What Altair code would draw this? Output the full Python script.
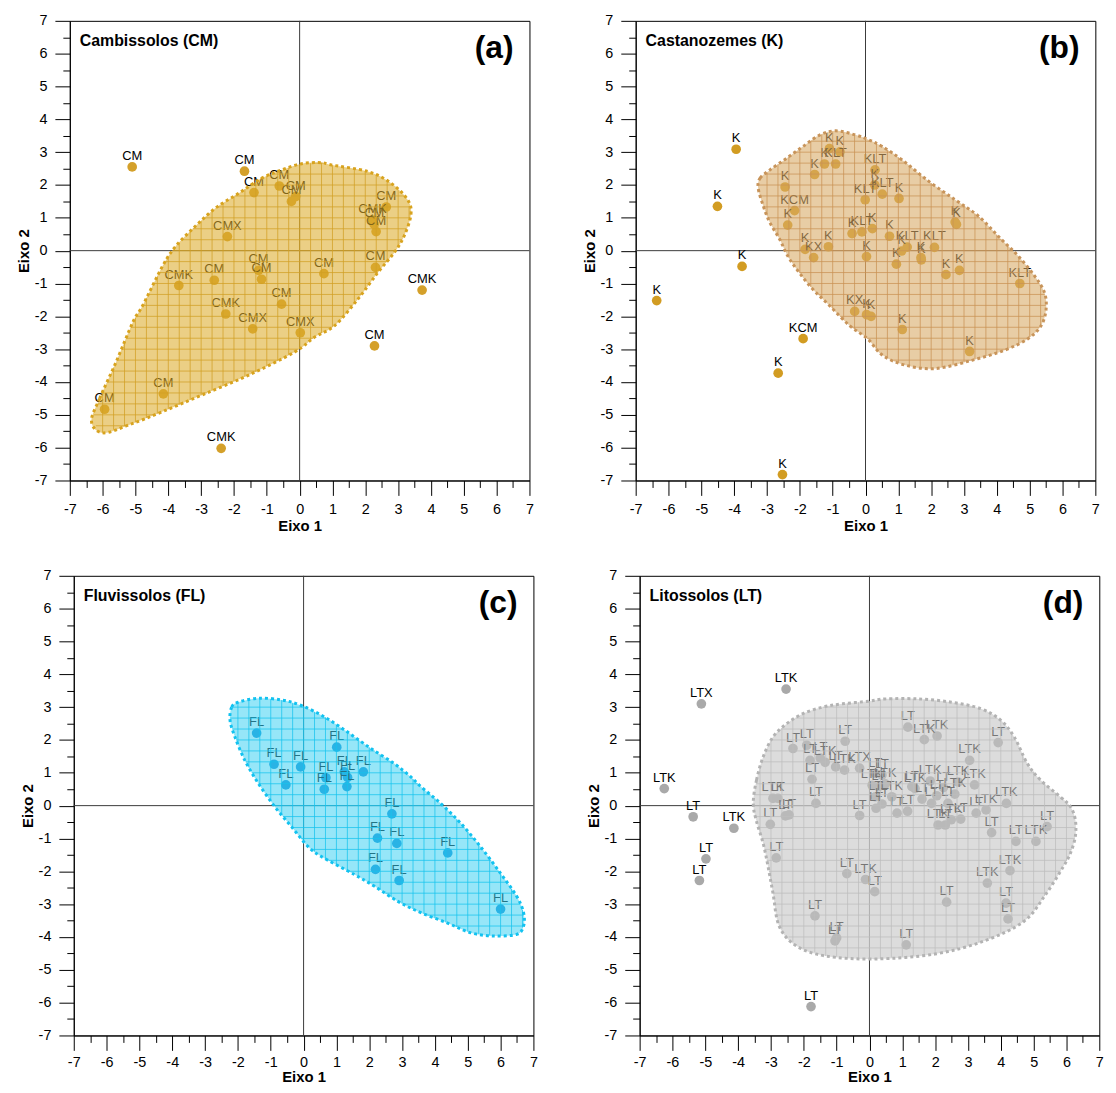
import altair as alt
import numpy as np
import pandas as pd

FONT = "Liberation Sans"

# ---------------- Panel (a) Cambissolos ----------------
a_x = [-5.1, -1.68, -1.39, -0.62, -0.25, -0.12, -2.2, -3.68, -2.6, -1.25, -1.16, -0.55, -2.25,
       -1.43, 0.02, 2.64, 2.22, 2.27, 2.33, 0.74, 2.31, 3.73, 2.28, -4.15, -5.94, -2.39]
a_y = [2.55, 2.42, 1.77, 1.97, 1.5, 1.65, 0.43, -1.06, -0.9, -0.6, -0.87, -1.63, -1.93,
       -2.38, -2.5, 1.33, 0.93, 0.8, 0.58, -0.7, -0.51, -1.2, -2.9, -4.36, -4.83, -6.02]
a_lab = ["CM", "CM", "CM", "CM", "CM", "CM", "CMX", "CMK", "CM", "CM", "CM", "CM", "CMK",
         "CMX", "CMX", "CM", "CMK", "CM", "CM", "CM", "CM", "CMK", "CM", "CM", "CM", "CMK"]
a_hull_x = [-6.34, -6.09, -5.59, -5.08, -4.78, -4.17, -3.77, -3.17, -2.56, -1.85, -1.15, -0.54,
            0.06, 0.67, 0.97, 2.08, 2.78, 3.29, 3.39, 3.18, 2.88, 2.38, 1.78, 1.07, 0.46, -0.14,
            -1.55, -2.96, -4.17, -5.18, -5.99]
a_hull_y = [-5.2, -4.5, -3.39, -2.18, -1.67, -0.46, 0.14, 0.75, 1.30, 1.75, 2.21, 2.46,
            2.65, 2.68, 2.61, 2.41, 2.06, 1.55, 1.10, 0.44, -0.06, -0.67, -1.47, -2.28, -2.63, -3.08,
            -3.79, -4.39, -4.90, -5.30, -5.55]

# ---------------- Panel (b) Castanozemes ----------------
b_x = [-3.94, -4.51, -3.76, -6.36, -1.1, -0.78, -1.25, -0.91, -1.55, -2.45, -2.16, -2.37, -1.84,
       -1.58, -1.13, 0.29, 0.28, -0.01, 0.51, 1.02, -0.41, -0.11, 0.21, 0.03, 0.73, 1.27, 1.1,
       1.69, 1.7, 2.1, 0.94, 2.45, 2.86, 2.73, 2.77, 4.7, -1.9, -2.66, -2.53, -0.33, 0.03, 0.17,
       1.12, 3.17]
b_y = [3.09, 1.35, -0.48, -1.52, 3.11, 3.01, 2.64, 2.64, 2.32, 1.94, 1.22, 0.78, 0.04,
       -0.21, 0.12, 2.46, 2.0, 1.55, 1.72, 1.59, 0.52, 0.57, 0.67, -0.18, 0.44, 0.11, -0.01,
       -0.21, -0.28, 0.1, -0.41, -0.73, -0.6, 0.87, 0.8, -1.0, -2.68, -3.73, -6.82, -1.85, -1.95, -2.0,
       -2.4, -3.07]
b_lab = ["K", "K", "K", "K", "K", "K", "K", "KLT", "K", "K", "KCM", "K", "K",
         "KX", "K", "KLT", "K", "KLT", "KLT", "K", "K", "KLT", "K", "K", "K", "KLT", "K",
         "K", "K", "KLT", "K", "K", "K", "K", "K", "KLT", "KCM", "K", "K", "KX", "K", "K",
         "K", "K"]
b_hull_x = [-3.27, -3.21, -2.91, -2.41, -1.91, -1.40, -0.90, -0.29, 0.11, 0.51, 1.12, 1.93, 2.73,
            3.44, 4.14, 4.65, 5.15, 5.45, 5.50, 5.35, 4.95, 4.24, 3.24, 2.13, 1.22, 0.51, 0.06,
            -0.49, -1.10, -1.70, -2.31, -2.61, -2.91, -3.11]
b_hull_y = [1.91, 2.21, 2.46, 2.81, 3.17, 3.52, 3.65, 3.52, 3.37, 3.17, 2.76, 2.11, 1.55,
            1.05, 0.34, -0.16, -0.77, -1.27, -1.78, -2.28, -2.68, -3.03, -3.34, -3.59, -3.49, -3.18, -2.68,
            -2.28, -1.67, -1.07, -0.26, 0.34, 0.85, 1.35]

# ---------------- Panel (c) Fluvissolos ----------------
c_x = [-1.43, -0.9, -0.09, -0.54, 1.01, 0.68, 0.63, 1.24, 1.34, 1.32, 1.82, 2.69, 2.25, 2.84,
       4.39, 2.19, 2.91, 6.0]
c_y = [2.21, 1.26, 1.18, 0.63, 1.78, 0.85, 0.5, 1.03, 0.86, 0.58, 1.03, -0.25, -0.99, -1.15,
       -1.44, -1.94, -2.28, -3.15]
c_lab = ["FL"] * len(c_x)
c_hull_x = [-2.24, -2.19, -1.99, -1.38, -0.68, -0.07, 0.64, 1.34, 2.05, 2.76, 3.26, 3.57, 4.17,
            4.78, 5.38, 5.99, 6.49, 6.70, 6.70, 6.49, 5.79, 5.08, 4.37, 3.57, 2.86, 2.15, 1.55,
            0.54, 0.13, -0.37, -0.88, -1.38, -1.79, -2.09]
c_hull_y = [2.60, 3.00, 3.15, 3.27, 3.22, 3.05, 2.70, 2.24, 1.74, 1.28, 0.88, 0.58, 0.07,
            -0.53, -1.24, -2.05, -2.76, -3.26, -3.67, -3.92, -3.97, -3.87, -3.57, -3.26, -2.91, -2.45, -2.10,
            -1.55, -1.24, -0.64, -0.03, 0.68, 1.38, 2.09]

# ---------------- Panel (d) Litossolos ----------------
d_x = [-5.12, -2.54, -6.25, -5.37, -4.13, -4.98, -5.18, -1.78,
       -2.33, -1.91, -0.74, -1.81, -1.35, -1.5, -1.03, -0.76, -0.30, -1.75, -2.94, -2.79, -1.63,
       -2.56, -2.45, -3.02, -0.3, -2.84, -0.69, -0.12, 0.16, -1.66, -1.0, -1.05, 1.12, 2.35, 3.59,
       4.28, 4.16, 4.22, 5.41, 5.07, 4.46, 3.72, 4.17, 3.55, 3.25, 1.17, 1.67, 2.06, 3.92, 3.05,
       0.18, 0.38, 0.08, 0.28, 0.48, 0.18, 0.38, 0.2, 0.84, 1.16, 0.68, 1.29,
       1.39, 1.89, 2.09, 2.31, 2.49, 2.78, 2.39, 3.2, 1.85, 2.25, 2.6, 2.05, 2.7, 1.6]
d_y = [3.1, 3.55, 0.52, -0.34, -0.69, -1.62, -2.28, -6.12,
       1.74, 1.84, 1.96, 1.38, 1.32, 1.45, 1.18, 1.08, 1.14, 0.80, 0.22, 0.22, 0.07,
       -0.31, -0.28, -0.57, -0.30, -1.59, -2.07, -2.25, -2.62, -3.36, -4.03, -4.12, -4.24, -2.94, -2.36,
       -1.98, -2.97, -3.45, -0.64, -1.09, -1.09, -0.82, 0.07, -0.13, -0.23, 2.39, 2.01, 2.12, 1.92, 1.38,
       0.98, 0.93, 0.62, 0.58, 0.66, 0.27, 0.05, -0.08, -0.23, -0.17, 0.27, 0.58,
       0.52, 0.07, -0.59, -0.59, -0.43, -0.41, 0.07, 0.63, 0.75, 0.55, 0.35, 0.3, 0.72, 0.2]
d_lab = ["LTX", "LTK", "LTK", "LT", "LTK", "LT", "LT", "LT",
         "LT", "LT", "LT", "LT", "LTK", "LT", "LT", "LTK", "LTX", "LT", "LTK", "LT", "LT",
         "LT", "LT", "LT", "LT", "LT", "LT", "LTK", "LT", "LT", "LT", "LT", "LT", "LT", "LTK",
         "LTK", "LT", "LT", "LT", "LTK", "LT", "LT", "LTK", "LTK", "LT", "LT", "LTK", "LTK", "LT", "LTK",
         "LT", "LT", "LTK", "LT", "LTK", "LT", "LT", "LT", "LT", "LT", "LTK", "LT",
         "LTK", "LT", "LTK", "LT", "LTK", "LT", "LT", "LTK", "LTK", "LT", "LTK", "LT", "LTK", "LT"]
d_hull_x = [-3.54, -3.44, -3.24, -2.94, -2.53, -2.03, -1.43, -0.82, -0.02, 0.48, 1.49, 2.50, 3.40,
            4.00, 4.41, 4.81, 5.21, 5.81, 6.12, 6.27, 6.27, 6.12, 5.91, 5.37, 4.71, 3.50, 1.99,
            0.18, -1.33, -2.23, -2.75, -2.94, -3.09, -3.24, -3.44]
d_hull_y = [0.07, 0.78, 1.48, 2.09, 2.49, 2.80, 3.0, 3.10, 3.18, 3.25, 3.25, 3.15, 2.95,
            2.60, 2.09, 1.28, 0.78, 0.27, -0.03, -0.43, -0.94, -1.45, -1.85, -2.70, -3.52, -4.12, -4.52,
            -4.67, -4.58, -4.27, -3.67, -2.66, -1.85, -1.14, -0.48]

TICKS_MAJOR = list(range(-7, 8))
TICKS_MINOR = [v + 0.5 for v in range(-7, 7)]


def hatch_segments(hx, hy, step=1.0 / 3.0):
    """Grid hatch lines clipped to the hull polygon (derived from the hull data)."""
    n = len(hx)
    rows = []
    for axis in ("h", "v"):
        P = hy if axis == "h" else hx
        Q = hx if axis == "h" else hy
        kmin = int(np.ceil(min(P) / step))
        kmax = int(np.floor(max(P) / step))
        for k in range(kmin, kmax + 1):
            c = k * step
            cuts = []
            for i in range(n):
                p1, q1 = P[i], Q[i]
                p2, q2 = P[(i + 1) % n], Q[(i + 1) % n]
                if (p1 <= c < p2) or (p2 <= c < p1):
                    cuts.append(q1 + (c - p1) * (q2 - q1) / (p2 - p1))
            cuts.sort()
            for s, e in zip(cuts[0::2], cuts[1::2]):
                if axis == "h":
                    rows.append({"x": s, "x2": e, "y": c, "y2": c})
                else:
                    rows.append({"x": c, "x2": c, "y": s, "y2": e})
    return pd.DataFrame(rows)


def panel(px, py, lab, hx, hy, pcol, fill, fop, hcol, bcol, name, tag,
          pad_side=None, pad_amount=0, x_title_pad=3, x_label_pad=7):
    W = 463
    pts = pd.DataFrame({"x": px, "y": py, "lab": lab})
    hull = pd.DataFrame({"x": hx, "y": hy, "i": list(range(len(hx)))})
    hat = hatch_segments(hx, hy)
    zero = pd.DataFrame({"z": [0]})
    xs = alt.Scale(domain=[-7, 7], nice=False, zero=False)
    ys = alt.Scale(domain=[-7, 7], nice=False, zero=False)

    major_x = alt.Axis(values=TICKS_MAJOR, tickSize=15, labelPadding=x_label_pad, labelFlush=False,
                       labelExpr="'' + datum.value", title="Eixo 1", titlePadding=x_title_pad,
                       labelOverlap=False, orient="bottom")
    major_y = alt.Axis(values=TICKS_MAJOR, tickSize=15, labelPadding=8,
                       labelExpr="'' + datum.value", title="Eixo 2", titlePadding=3,
                       labelOverlap=False, orient="left")
    minor_x = alt.Axis(values=TICKS_MINOR, tickSize=7, labels=False, domain=False,
                       title=None, orient="bottom")
    minor_y = alt.Axis(values=TICKS_MINOR, tickSize=7, labels=False, domain=False,
                       title=None, orient="left")
    if pad_side is not None:
        # invisible extra axis: only reserves room at one side (layout offset of the rows)
        spacer_y = alt.Axis(orient=pad_side, labels=False, ticks=False, domain=False,
                            title=".", titleOpacity=0, titleFontSize=2,
                            titlePadding=pad_amount)
    else:
        spacer_y = None

    vline = alt.Chart(zero).mark_rule(color="#3a3a3a", strokeWidth=1).encode(
        x=alt.X("z:Q", scale=xs, axis=None))
    hline = alt.Chart(zero).mark_rule(color="#3a3a3a", strokeWidth=1).encode(
        y=alt.Y("z:Q", scale=ys, axis=spacer_y))
    points = alt.Chart(pts).mark_circle(size=95, opacity=1, color=pcol).encode(
        x=alt.X("x:Q", scale=xs, axis=major_x),
        y=alt.Y("y:Q", scale=ys, axis=major_y))
    texts = alt.Chart(pts).mark_text(baseline="bottom", dy=-4, fontSize=13, font=FONT,
                                     color="black").encode(
        x=alt.X("x:Q", axis=None), y=alt.Y("y:Q", axis=None), text="lab:N")
    hullfill = alt.Chart(hull).mark_line(interpolate="cardinal-closed", fill=fill,
                                         fillOpacity=fop, strokeOpacity=0).encode(
        x=alt.X("x:Q", axis=None), y=alt.Y("y:Q", axis=None), order="i:Q")
    hatch = alt.Chart(hat).mark_rule(color=hcol, strokeWidth=1, opacity=0.75).encode(
        x=alt.X("x:Q", axis=minor_x), x2="x2:Q",
        y=alt.Y("y:Q", axis=minor_y), y2="y2:Q")
    border = alt.Chart(hull).mark_line(interpolate="cardinal-closed", color=bcol,
                                       strokeWidth=3, strokeDash=[3, 3]).encode(
        x=alt.X("x:Q", axis=None), y=alt.Y("y:Q", axis=None), order="i:Q")
    name_t = alt.Chart(zero).mark_text(text=name, align="left", baseline="middle", font=FONT,
                                       fontSize=16, fontWeight="bold", color="black").encode(
        x=alt.value(10), y=alt.value(20))
    tag_t = alt.Chart(zero).mark_text(text=tag, align="right", baseline="middle", font=FONT,
                                      fontSize=32, fontWeight="bold", color="black").encode(
        x=alt.value(W - 16), y=alt.value(27))
    return alt.layer(vline, hline, points, texts, hullfill, hatch, border, name_t, tag_t).resolve_axis(
        x="independent", y="independent").properties(width=W, height=W)


pa = panel(a_x, a_y, a_lab, a_hull_x, a_hull_y, "#D4A02A", "#DDAD2C", 0.58, "#D19F24", "#D8A31E",
           "Cambissolos (CM)", "(a)")
pb = panel(b_x, b_y, b_lab, b_hull_x, b_hull_y, "#D29C22", "#D9AC69", 0.6, "#C99253", "#C8945A",
           "Castanozemes (K)", "(b)", pad_side="right", pad_amount=10)
pc = panel(c_x, c_y, c_lab, c_hull_x, c_hull_y, "#0E8FD6", "#3FD2F3", 0.55, "#16C4EE", "#12C2F0",
           "Fluvissolos (FL)", "(c)", pad_side="left", pad_amount=63,
           x_title_pad=1, x_label_pad=5)
pd_ = panel(d_x, d_y, d_lab, d_hull_x, d_hull_y, "#A9A9A9", "#C5C5C5", 0.6, "#BDBDBD", "#B3B3B3",
            "Litossolos (LT)", "(d)", x_title_pad=1, x_label_pad=5)

row1 = alt.hconcat(pa, pb, spacing=47)
row2 = alt.hconcat(pc, pd_, spacing=47)

chart = alt.vconcat(row1, row2, spacing=33, center=True).properties(
    padding={"left": 0, "top": 0, "right": 0, "bottom": 0}
).configure_view(stroke="black", strokeWidth=1).configure_axis(
    labelFont=FONT, titleFont=FONT, labelFontSize=14.5, titleFontSize=15, titleFontWeight="bold",
    tickColor="black", domainColor="black", labelColor="black", titleColor="black",
    grid=False, tickWidth=1, domainWidth=1)

chart.save("out.html", embed_options={"renderer": "svg", "actions": False})
